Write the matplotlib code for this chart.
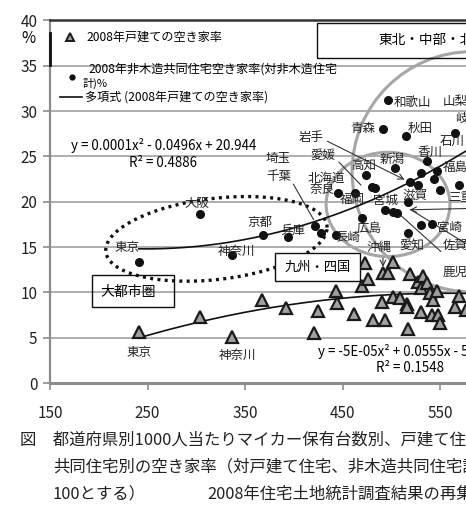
import numpy as np
import matplotlib
matplotlib.use("Agg")
import matplotlib.pyplot as plt
from matplotlib.patches import Ellipse, Rectangle

plt.rcParams['font.family'] = ['Noto Sans CJK JP', 'DejaVu Sans']

# 戸建ての空き家率 (x: 1000人当たりマイカー保有台数)
house_x = [241, 304, 337, 367, 392, 421, 425, 443, 444, 462, 470, 473, 476, 481,
           490, 492, 494, 497, 502, 502, 509, 516, 516, 517, 519, 527, 530, 530,
           533, 537, 540, 542, 543, 547, 548, 550, 565, 569, 577]
house_y = [5.6, 7.3, 5.1, 9.2, 8.3, 5.5, 7.9, 10.1, 8.8, 7.6, 10.7, 13.2, 11.5, 7.0,
           8.9, 12.1, 7.0, 12.1, 13.3, 9.5, 9.4, 8.7, 8.4, 6.0, 12.0, 11.1, 10.5, 7.8,
           11.8, 11.0, 9.9, 7.5, 9.2, 10.1, 7.5, 6.6, 8.4, 9.6, 8.1]

# 非木造共同住宅の空き家率
flat_x = [241, 304, 337, 368, 394, 422, 428, 443, 445, 463, 470, 474, 480, 483,
          492, 494, 497, 502, 504, 506, 515, 517, 517, 519, 527, 530, 530, 537,
          542, 544, 547, 550, 565, 569]
flat_y = [13.4, 18.6, 14.1, 16.3, 16.1, 17.3, 16.5, 16.3, 21.0, 21.0, 18.2, 23.0,
          21.6, 21.5, 28.0, 19.1, 31.2, 18.9, 23.7, 18.7, 27.2, 20.0, 16.5, 22.2,
          21.8, 23.2, 17.4, 24.5, 17.5, 22.5, 23.4, 21.3, 27.6, 21.8]

# 近似曲線 (2次多項式) の係数
flat_fit = [0.0001, -0.0496, 20.944]
house_fit = [-5e-05, 0.0555, -5.5]

flat_names = [
    ('東京', 229, 14.9), ('大阪', 301, 19.85), ('神奈川', 341, 14.55),
    ('京都', 365, 17.75), ('兵庫', 399, 16.9), ('埼玉', 384, 24.8),
    ('千葉', 385, 22.8), ('岩手', 418, 27.1), ('愛媛', 430, 25.1),
    ('北海道', 433, 22.6), ('奈良', 429, 21.3), ('高知', 472, 24.0),
    ('新潟', 501, 24.7), ('香川', 540, 25.4), ('石川', 562, 26.6),
    ('福岡', 460, 20.2), ('宮城', 494, 20.2), ('滋賀', 524, 20.7),
    ('広島', 477, 17.1), ('長崎', 455, 16.0), ('沖縄', 487, 15.0),
    ('愛知', 521, 15.2), ('和歌山', 522, 31.0), ('青森', 471, 28.1),
    ('秋田', 530, 28.1),
]
edge_names = [
    ('山梨', 553, 31.0), ('岐阜', 565, 29.2), ('福島', 553, 23.8),
    ('三重', 558, 20.5), ('宮崎', 547, 17.2), ('佐賀', 553, 15.2),
    ('鹿児島', 553, 12.2),
]
house_names = [('東京', 241, 3.4), ('神奈川', 342, 3.1)]

fig = plt.figure(figsize=(4.66, 5.15), dpi=100)
# the plot area runs past the right edge of the figure
ax = fig.add_axes([50 / 466, 132 / 515, 585 / 466, 362.6 / 515])
ax.set_xlim(150, 750)
ax.set_ylim(0, 40)
ax.set_xticks(range(150, 751, 100))
ax.set_yticks(range(0, 41, 5))
ax.tick_params(labelsize=11, colors='#222222', length=5, width=1.2)
ax.tick_params(axis='x', pad=11, color='#8c8c8c')
ax.tick_params(axis='y', pad=4, color='#8c8c8c')
ax.grid(axis='y', color='#a8a8a8', lw=1.3)
ax.set_axisbelow(True)
for s in ['left', 'bottom']:
    ax.spines[s].set_color('#8c8c8c')
    ax.spines[s].set_linewidth(1.6)
ax.spines['bottom'].set_linewidth(2.2)
ax.spines['top'].set_color('#333333')
ax.spines['top'].set_linewidth(1.8)
ax.spines['right'].set_visible(False)

# trend lines
xs = np.linspace(241, 750, 300)
ax.plot(xs, np.polyval(flat_fit, xs), color='#111111', lw=1.2, zorder=3)
ax.plot(xs, np.polyval(house_fit, xs), color='#111111', lw=1.2, zorder=3)

ax.plot(house_x, house_y, ls='none', marker='^', ms=9, mfc='#a0a0a0',
        mec='#1a1a1a', mew=1.6, zorder=4)
ax.plot(flat_x, flat_y, ls='none', marker='o', ms=5.5, color='#111111', zorder=4)

# groupings
t = np.linspace(0, 2 * np.pi, 300)
ax.plot(320.7 + 113.5 * np.cos(t), 15.9 + 4.5 * np.sin(t) + 1.25 * np.cos(t),
        color='#111111', lw=2.4, ls=(0, (0.9, 1.3)), zorder=2)
ax.add_patch(Ellipse((582.8, 23.3), 246, 26.5, fill=False, ec='#a6a6a6', lw=2.2, zorder=2))
ax.add_patch(Ellipse((496.7, 19.7), 127, 11.5, fill=False, ec='#a6a6a6', lw=2.2, zorder=2))

# region boxes
ax.add_patch(Rectangle((423.6, 35.83), 250, 3.86, fill=False, ec='#111111', lw=1, zorder=5))
ax.text(486.4, 37.8, '東北・中部・北陸・中国', fontsize=9.8, va='center', zorder=5)
ax.add_patch(Rectangle((193.1, 8.38), 84.1, 3.52, fill=False, ec='#111111', lw=1, zorder=5))
ax.text(230, 10.1, '大都市圏', fontsize=10, ha='center', va='center', zorder=5)
ax.add_patch(Rectangle((380.8, 11.25), 87.2, 3.08, fc='white', ec='#111111', lw=1, zorder=5))
ax.text(424.4, 12.8, '九州・四国', fontsize=9.5, ha='center', va='center', zorder=6)

# leader lines
arrow = dict(arrowstyle='->', color='#333333', lw=0.8)
ax.annotate('', xy=(516.2, 22.3), xytext=(432.0, 26.8), arrowprops=arrow)
ax.annotate('', xy=(516.2, 19.1), xytext=(600, 19.3), arrowprops=arrow)
line = dict(arrowstyle='-', color='#333333', lw=0.8)
ax.annotate('', xy=(471.0, 21.6), xytext=(444.3, 24.6), arrowprops=line)
ax.annotate('', xy=(421.8, 17.75), xytext=(398.2, 22.2), arrowprops=line)
ax.annotate('', xy=(506.0, 18.85), xytext=(553.0, 14.3), arrowprops=line)
ax.annotate('', xy=(517.2, 19.3), xytext=(590.0, 14.5), arrowprops=line)
ax.annotate('', xy=(491.5, 12.5), xytext=(491.5, 14.1), arrowprops=arrow)

for name, x, y in flat_names + house_names:
    ax.text(x, y, name, fontsize=9, ha='center', va='center', color='#222222', zorder=6)
for name, x, y in edge_names:
    ax.text(x, y, name, fontsize=9, ha='left', va='center', color='#222222', zorder=6)

ax.text(266.9, 26.2, 'y = 0.0001x² - 0.0496x + 20.944', fontsize=9.6, ha='center', va='center')
ax.text(265.9, 24.3, 'R² = 0.4886', fontsize=9.6, ha='center', va='center')
ax.text(424.9, 3.5, 'y = -5E-05x² + 0.0555x - 5.5', fontsize=9.6, ha='left', va='center')
ax.text(519.2, 1.65, 'R² = 0.1548', fontsize=9.6, ha='center', va='center')

# legend
ax.text(127.4, 38.0, '%', fontsize=11, ha='center', va='center', clip_on=False)
ax.plot([150, 150], [35.1, 38.6], color='#111111', lw=2, clip_on=False, zorder=5)
ax.plot([170.5], [38.15], marker='^', ms=6, mfc='#a0a0a0', mec='#1a1a1a', mew=1.4)
ax.text(187.9, 38.15, '2008年戸建ての空き家率', fontsize=8.7, va='center')
ax.plot([172.6], [33.8], marker='o', ms=3.5, color='#111111')
ax.text(189, 34.6, '2008年非木造共同住宅空き家率(対非木造住宅', fontsize=8.7, va='center')
ax.text(183.8, 33.1, '計)%', fontsize=8, va='center')
ax.plot([160.3, 182.8], [31.5, 31.5], color='#111111', lw=1.2)
ax.text(185.9, 31.5, '多項式 (2008年戸建ての空き家率)', fontsize=8.7, va='center')

# caption
cap = dict(fontsize=11.8, va='center', color='#222222')
fig.text(20 / 466, 1 - 440 / 515, '図　都道府県別1000人当たりマイカー保有台数別、戸建て住宅・非木造', **cap)
fig.text(53 / 466, 1 - 467 / 515, '共同住宅別の空き家率（対戸建て住宅、非木造共同住宅計を', **cap)
fig.text(53 / 466, 1 - 494 / 515, '100とする）', **cap)
fig.text(207 / 466, 1 - 494 / 515, '2008年住宅土地統計調査結果の再集計', **cap)

fig.savefig('out.png', dpi=100)
